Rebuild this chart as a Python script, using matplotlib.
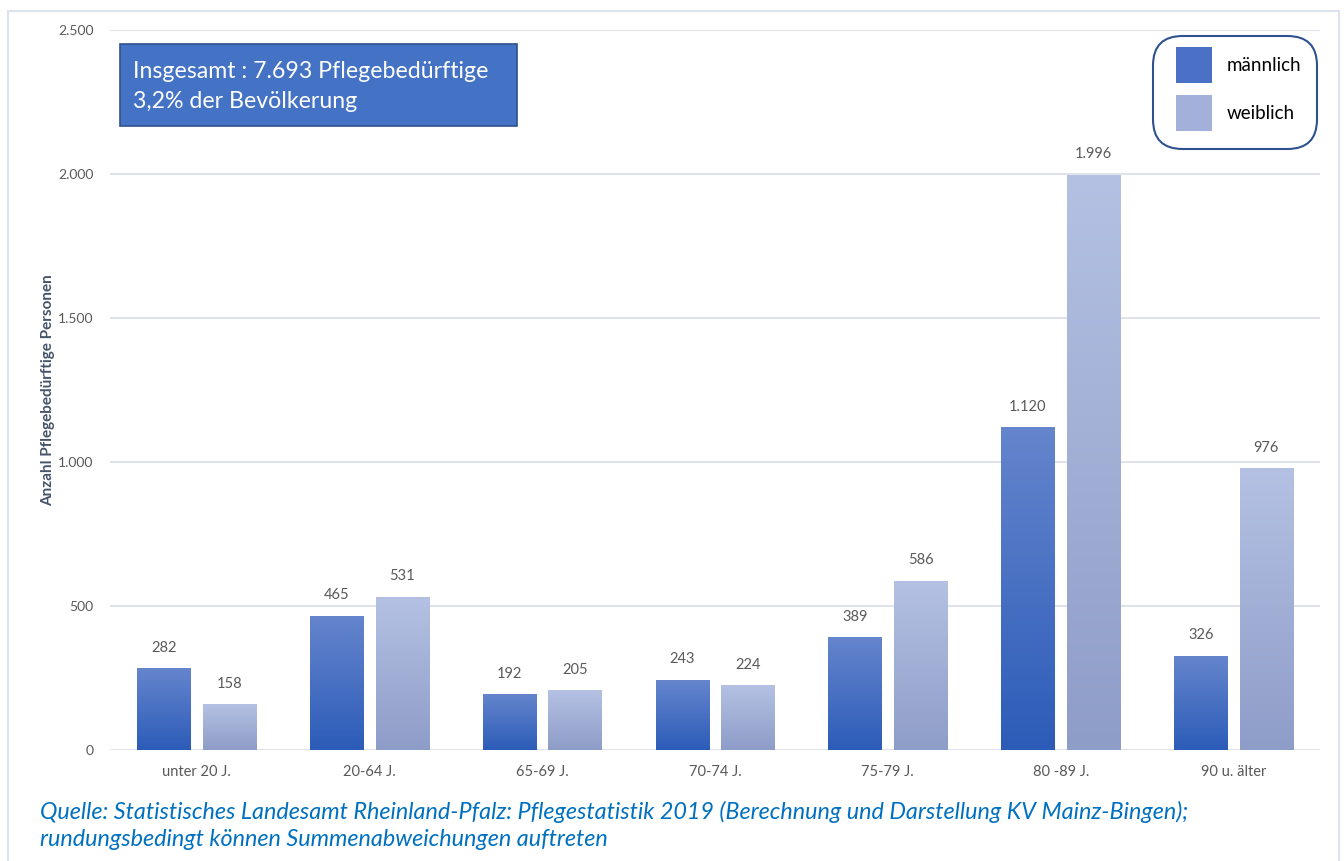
import numpy as np
import matplotlib.pyplot as plt
from matplotlib.patches import Rectangle, Patch, FancyBboxPatch
from matplotlib.colors import LinearSegmentedColormap
from matplotlib.ticker import FuncFormatter

plt.rcParams['font.family'] = ['Lato', 'DejaVu Sans']

# Pflegebedürftige nach Altersgruppe und Geschlecht
altersgruppen = ['unter 20 J.', '20-64 J.', '65-69 J.', '70-74 J.', '75-79 J.', '80 -89 J.', '90 u. älter']
maennlich = [282, 465, 192, 243, 389, 1120, 326]
weiblich = [158, 531, 205, 224, 586, 1996, 976]

fig = plt.figure(figsize=(13.44, 8.61), dpi=100)
ax = fig.add_axes([110 / 1344, 1 - 750 / 861, 1210 / 1344, 720 / 861])

grau = '#595959'
cmap_m = LinearSegmentedColormap.from_list('m', ['#2c5cb8', '#6585cd'])
cmap_w = LinearSegmentedColormap.from_list('w', ['#8e9dc8', '#b4c1e3'])

x = np.arange(len(altersgruppen))
breite = 0.307
versatz = 0.19
verlauf = np.linspace(0, 1, 256).reshape(-1, 1)


def balken(xpos, werte, cmap):
    bars = ax.bar(xpos, werte, width=breite, color='none', zorder=3)
    for b in bars:
        x0, w, h = b.get_x(), b.get_width(), b.get_height()
        ax.imshow(verlauf, cmap=cmap, origin='lower', aspect='auto',
                  extent=(x0, x0 + w, 0, h), zorder=2)
        ax.annotate(f'{int(h):,}'.replace(',', '.'), (x0 + w / 2, h),
                    xytext=(0, 15), textcoords='offset points',
                    ha='center', va='center', fontsize=10.5, color=grau)
    return bars


balken(x - versatz, maennlich, cmap_m)
balken(x + versatz, weiblich, cmap_w)

ax.set_xlim(-0.5, len(altersgruppen) - 0.5)
ax.set_ylim(0, 2500)
ax.set_yticks(range(0, 2501, 500))
ax.yaxis.set_major_formatter(FuncFormatter(lambda v, p: f'{int(v):,}'.replace(',', '.')))
ax.set_xticks(x)
ax.set_xticklabels(altersgruppen)
ax.tick_params(length=0, colors=grau, labelsize=10)
ax.tick_params(axis='x', labelsize=10.5, pad=11)
ax.tick_params(axis='y', pad=12)
ax.grid(axis='y', color='#d9dde6', linewidth=1.2, zorder=0)
ax.set_axisbelow(True)
for s in ax.spines.values():
    s.set_visible(False)

ax.set_ylabel('Anzahl Pflegebedürftige Personen', fontsize=11, fontweight='bold',
              color='#44546a', labelpad=2)

# Infobox oben links
fig.patches.append(Rectangle((120 / 1344, 1 - 126 / 861), 397 / 1344, 82 / 861,
                             transform=fig.transFigure, facecolor='#4472c4',
                             edgecolor='#2f528f', linewidth=1.2, zorder=5))
fig.text(133 / 1344, 1 - 72 / 861, 'Insgesamt : 7.693 Pflegebedürftige',
         color='white', fontsize=16.7, va='center', zorder=6)
fig.text(133 / 1344, 1 - 101 / 861, '3,2% der Bevölkerung',
         color='white', fontsize=16.7, va='center', zorder=6)

# Legende mit abgerundetem Rahmen
fig.patches.append(FancyBboxPatch((1153 / 1344, 1 - 149 / 861), 164 / 1344, 113 / 861,
                                  boxstyle='round,pad=0,rounding_size=0.022',
                                  mutation_aspect=1344 / 861,
                                  transform=fig.transFigure, facecolor='white',
                                  edgecolor='#2f528f', linewidth=1.5, zorder=5))
handles = [Patch(facecolor='#4a71c6', label='männlich'),
           Patch(facecolor='#a2b0da', label='weiblich')]
leg = fig.legend(handles=handles, loc='upper left',
                 bbox_to_anchor=(1176 / 1344, 1 - 47 / 861),
                 bbox_transform=fig.transFigure, borderaxespad=0, borderpad=0,
                 fontsize=13.5, handlelength=1.92, handleheight=2.59,
                 handletextpad=0.8, labelspacing=0.64, frameon=False)
leg.set_zorder(6)

# Rahmen
fig.patches.append(Rectangle((8 / 1344, -0.05), 1331 / 1344, 1.05 - 11 / 861,
                             transform=fig.transFigure, facecolor='none',
                             edgecolor='#dde3ec', linewidth=1.5))

# Quelle
fig.text(40 / 1344, 1 - 812 / 861,
         'Quelle: Statistisches Landesamt Rheinland-Pfalz: Pflegestatistik 2019 '
         '(Berechnung und Darstellung KV Mainz-Bingen);',
         color='#0070c0', fontsize=16.8, style='italic', va='center')
fig.text(40 / 1344, 1 - 840 / 861, 'rundungsbedingt können Summenabweichungen auftreten',
         color='#0070c0', fontsize=16.8, style='italic', va='center')

fig.savefig('out.png', dpi=100)
